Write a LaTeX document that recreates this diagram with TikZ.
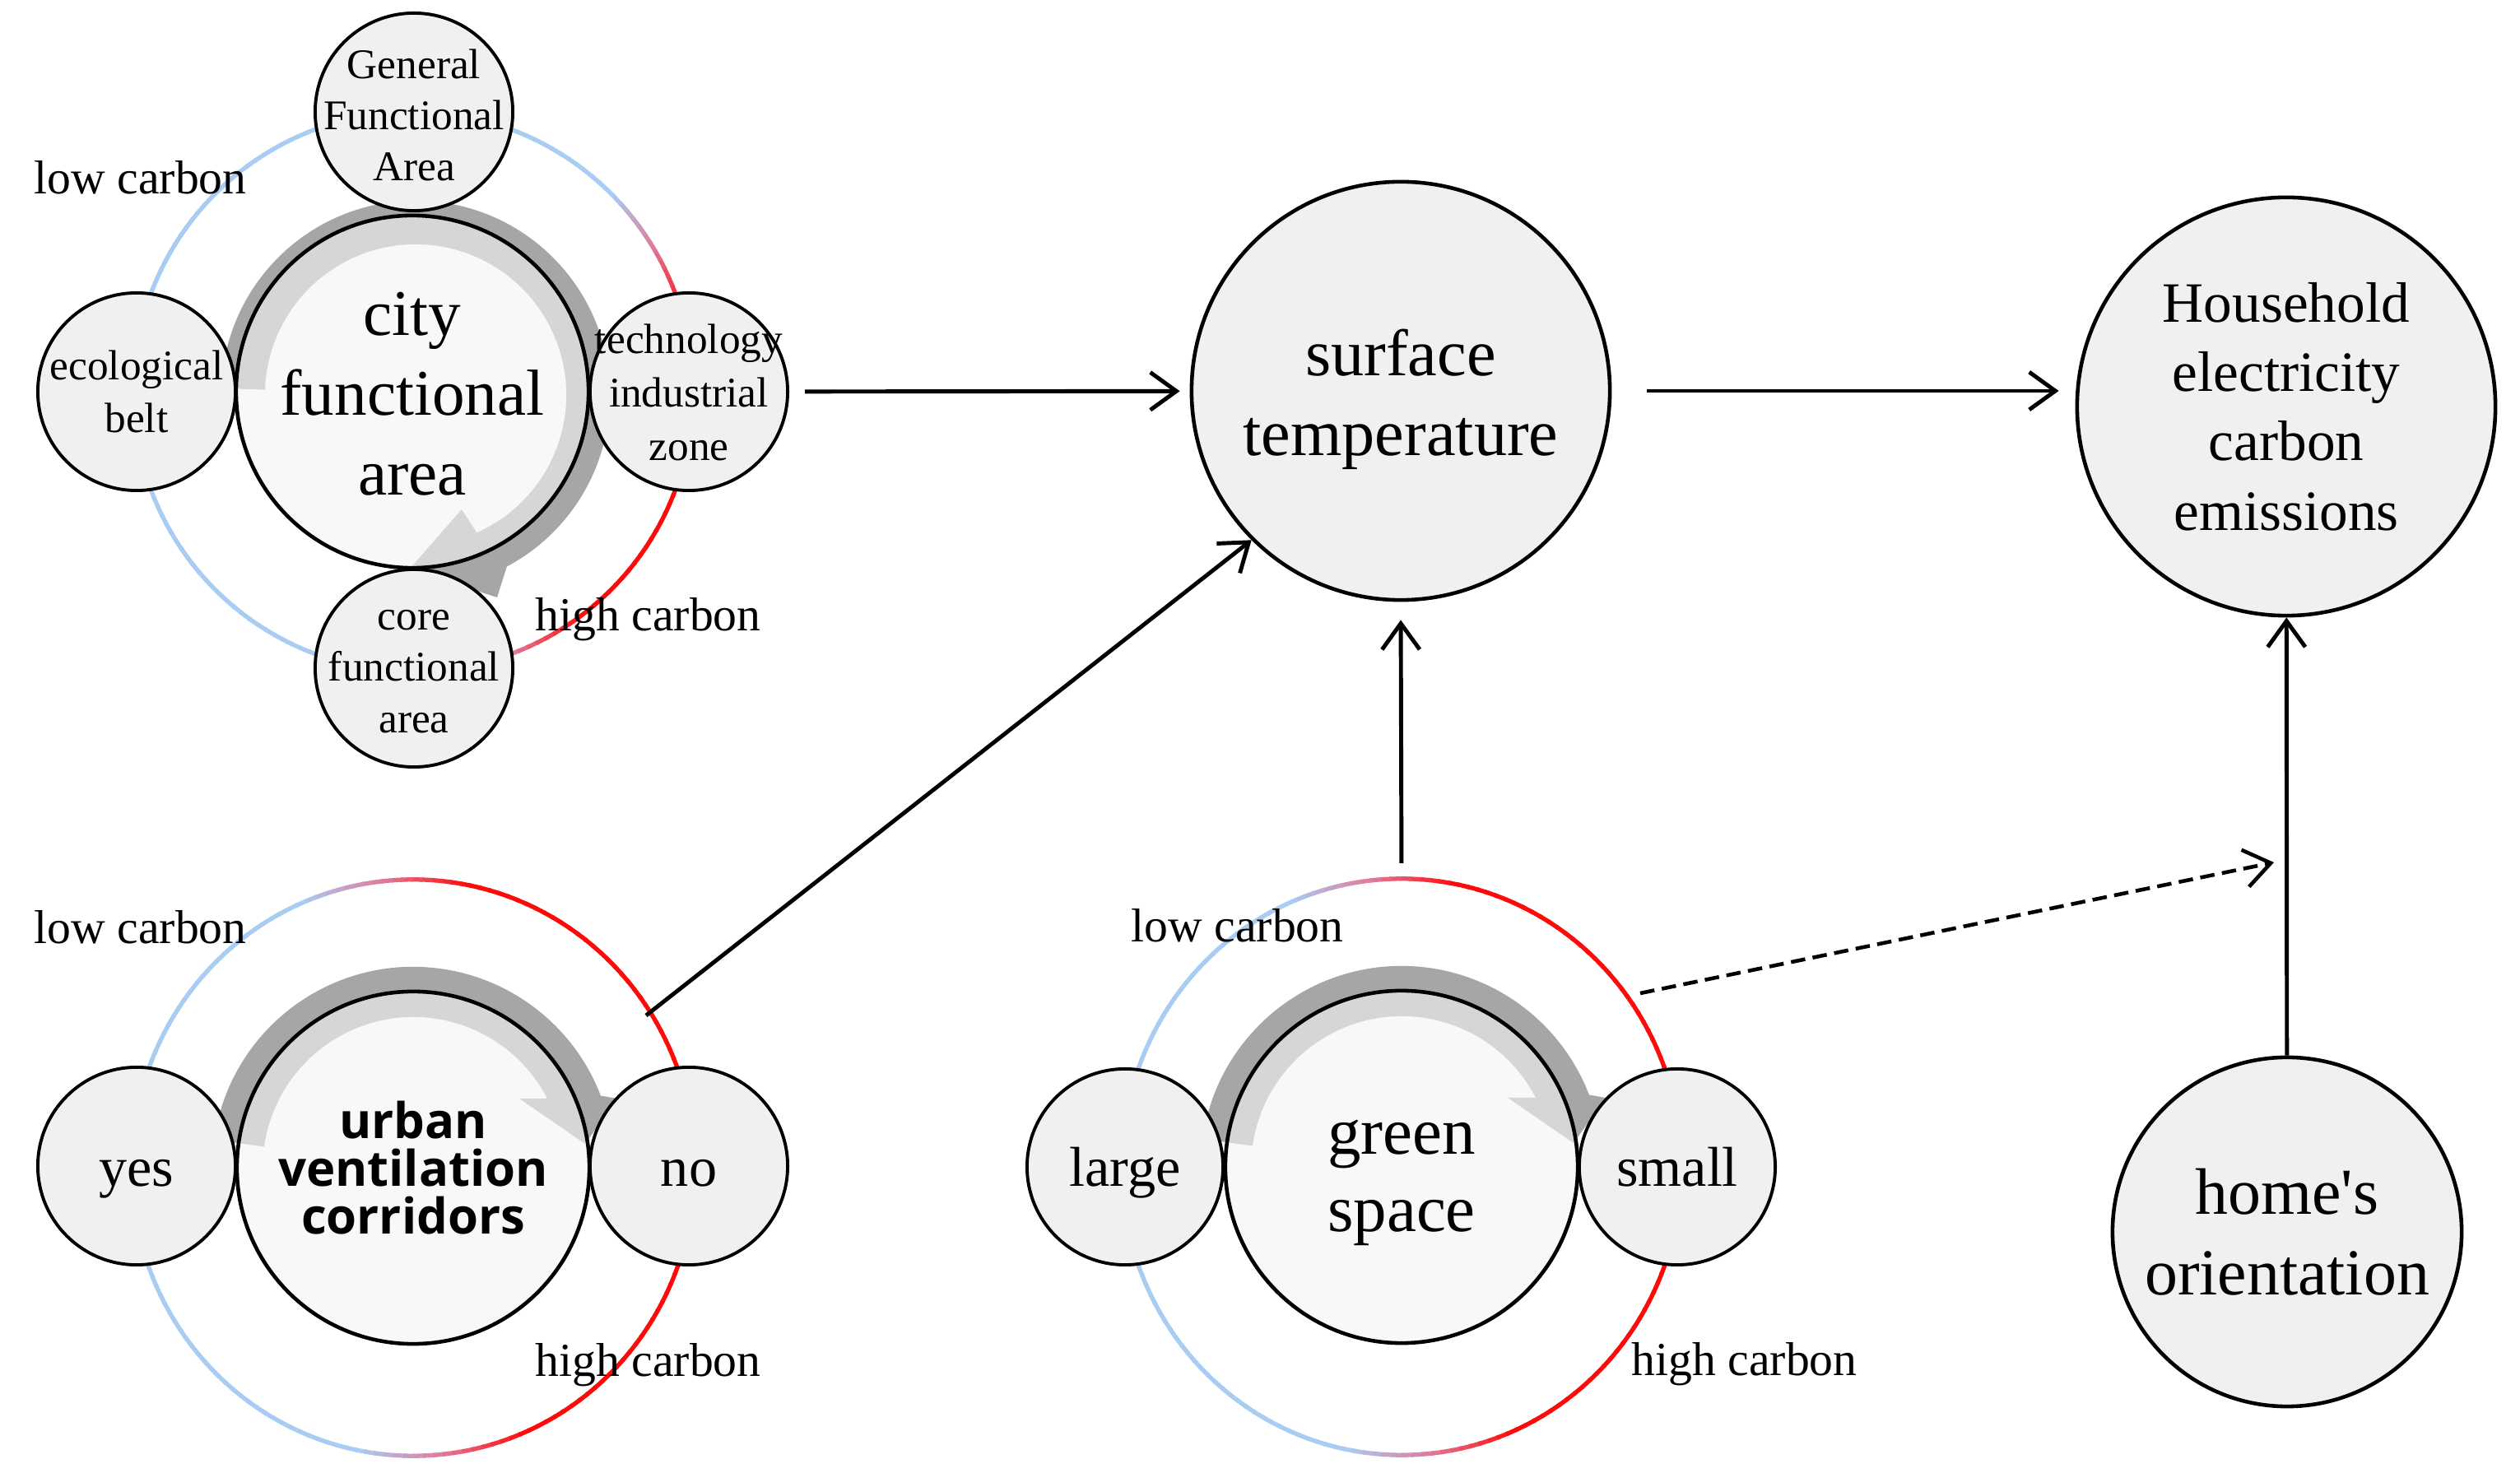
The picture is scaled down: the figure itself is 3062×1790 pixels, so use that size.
\documentclass[tikz,border=0pt]{standalone}
\usepackage{fontspec}
\setmainfont{Liberation Serif}
\newfontfamily\rawserif{Liberation Serif}[Ligatures=TeXOff]
\newfontfamily\opensans{Open Sans}
\usetikzlibrary{arrows.meta}
\definecolor{ringblue}{HTML}{A8CCF2}
\definecolor{ringpink}{HTML}{E07A9A}
\definecolor{ringred}{HTML}{FF0A0A}
\definecolor{arrowgray}{HTML}{A6A6A6}
\definecolor{nodefill}{HTML}{F0F0F0}
\definecolor{corefill}{HTML}{F5F5F5}
\newcommand\carbonring[7]{%
  \begin{scope}[shift={(#1,#2)}]
  \foreach \t in {0,2,...,358}{%
    \pgfmathsetmacro\ff{max(0,min(1,0.5+#7*(cos(\t-#5)-#6)))}%
    \pgfmathtruncatemacro\pa{min(100,200*\ff)}%
    \pgfmathtruncatemacro\pb{max(0,200*\ff-100)}%
    \draw[line width=1.5pt, draw=ringred!\pb!ringpink!\pa!ringblue]
      (\t:#3 and #4) arc[start angle=\t, end angle=\t+2.5, x radius=#3, y radius=#4];
  }
  \end{scope}}
\tikzset{
  smallc/.style={circle, draw=black, line width=1.1pt, fill=nodefill, inner sep=0pt, minimum size=2.4cm},
  centerc/.style={circle, draw=black, line width=1.3pt, fill=corefill, fill opacity=0.62, draw opacity=1, inner sep=0pt, minimum size=4.28cm},
  bigc/.style={circle, draw=black, line width=1.3pt, fill=nodefill, inner sep=0pt},
  txt/.style={align=center, inner sep=0pt, text=black},
  word/.style={anchor=base, inner sep=0pt, text=black, font=\fontsize{19.4}{22}\selectfont},
  lbl/.style={anchor=base west, inner sep=0pt, font=\fontsize{16.4}{19}\selectfont},
  arr/.style={line width=1.4pt, -{Straight Barb[length=9pt,width=13pt]}},
}
\begin{document}
\begin{tikzpicture}[x=0.01cm,y=0.01cm]
\fill[white] (0,0) rectangle (3062,1790);
\useasboundingbox (0,0) rectangle (3062,1790);

% carbon rings
\carbonring{502}{1314}{3.4cm}{3.4cm}{-20}{0.643}{2.5}
\carbonring{502}{371}{3.42cm}{3.5cm}{5}{0}{1.7}
\carbonring{1703}{372}{3.4cm}{3.5cm}{5}{0}{1.7}

% gray curved arrows
\begin{scope}[shift={(505,1310)}]
\fill[arrowgray] (178:2.36cm) arc[start angle=178,end angle=-62,radius=2.36cm]
  -- (99,-246) -- (-7,-211) -- (56,-139) -- (-66:1.83cm)
  arc[start angle=-66,end angle=178,radius=1.83cm] -- cycle;
\end{scope}
\foreach \cx/\cy in {502/371, 1703/372}{
\begin{scope}[shift={(\cx,\cy)}]
\fill[arrowgray] (172:2.44cm) arc[start angle=172,end angle=21,radius=2.44cm]
  -- (248,84) -- (209,29) -- (129,84) -- (163,84)
  arc[start angle=27.3,end angle=172,radius=1.83cm] -- cycle;
\end{scope}}

% central circles
\node[centerc] (city) at (501,1314) {};
\node[centerc] (urban) at (502,371) {};
\node[centerc] (green) at (1703,372) {};

% small circles
\node[smallc] (gen) at (503,1654) {};
\node[smallc] (eco) at (166,1314) {};
\node[smallc] (tech) at (837,1314) {};
\node[smallc] (core) at (503,978) {};
\node[smallc] (yes) at (166,373) {};
\node[smallc] (no) at (837,373) {};
\node[smallc, minimum size=2.38cm] (large) at (1367,372) {};
\node[smallc, minimum size=2.38cm] (small) at (2038,372) {};

% big circles
\node[bigc, minimum size=5.08cm] (surf) at (1702,1315) {};
\node[bigc, minimum size=5.08cm] (house) at (2778,1296) {};
\node[bigc, minimum size=4.24cm] (home) at (2779,293) {};

% texts
\node[txt, font=\fontsize{22.5}{27.6}\selectfont] (city-t) at (501,1311) {city\\functional\\area};
\node[txt, font=\fontsize{14.6}{17.6}\selectfont] (gen-t) at (503,1650) {General\\Functional\\Area};
\node[txt, font=\fontsize{14.6}{18}\selectfont] (eco-t) at (eco) {ecological\\belt};
\node[txt, font=\fontsize{14.6}{18.4}\selectfont] (tech-t) at (837,1313) {technology\\industrial\\zone};
\node[txt, font=\fontsize{14.6}{17.8}\selectfont] (core-t) at (503,974) {core\\functional\\area};
\node[txt, font=\opensans\bfseries\fontsize{17}{16.5}\selectfont] (urban-t) at (urban) {urban\\ventilation\\corridors};
\node[word] (yes-t) at (166,348) {yes};
\node[word] (no-t) at (837,348) {no};
\node[word] (large-t) at (1367,348) {large};
\node[word] (small-t) at (2038,348) {small};
\node[txt, font=\fontsize{23}{26.8}\selectfont] (green-t) at (1703,353) {green\\space};
\node[txt, font=\fontsize{22.8}{27.6}\selectfont] (surf-t) at (1702,1305) {surface\\temperature};
\node[txt, font=\fontsize{19.7}{24}\selectfont] (house-t) at (house) {Household\\electricity\\carbon\\emissions};
\node[txt, font=\rawserif\fontsize{22.7}{28}\selectfont] (home-t) at (home) {home's\\orientation};

% labels
\node[lbl] (lc1) at (41,1554) {low carbon};
\node[lbl] (hc1) at (650,1023) {high carbon};
\node[lbl] (lc2) at (41,643) {low carbon};
\node[lbl] (hc2) at (650,117) {high carbon};
\node[lbl] (lc3) at (1374,645) {low carbon};
\node[lbl] (hc3) at (1982,118) {high carbon};

% connectors
\coordinate (uout) at (785,556);
\coordinate (gtop) at (1703,722);
\coordinate (gout) at (1993,583);
\coordinate (dend) at (2763,742);
\draw[arr, shorten <=0.19cm, shorten >=0.12cm] (tech) -- (surf);
\draw[arr, shorten <=0.43cm, shorten >=0.2cm] (surf.east) -- (surf.east -| house.west);
\draw[arr] (uout) -- (surf.225);
\draw[arr, shorten <=0.19cm, shorten >=0.22cm] (gtop) -- (surf.south);
\draw[arr, line width=1.3pt, dash pattern=on 5pt off 2.6pt] (gout) -- (dend);
\draw[arr] (home) -- (house);
\end{tikzpicture}
\end{document}
